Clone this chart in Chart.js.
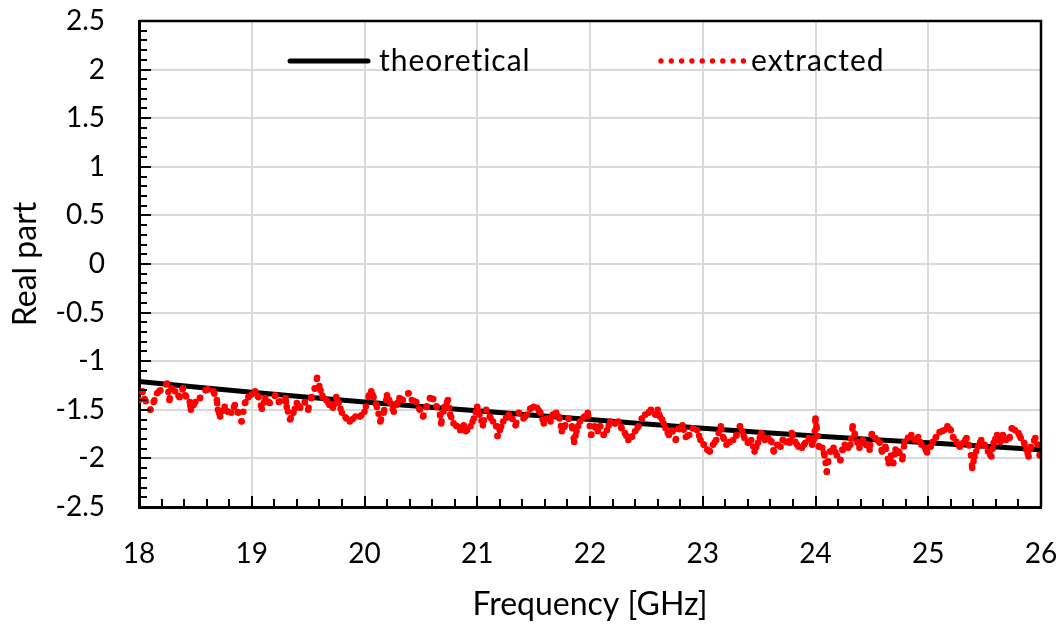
<!DOCTYPE html>
<html>
<head>
<meta charset="utf-8">
<script src="https://cdn.jsdelivr.net/npm/chart.js@4.4.1/dist/chart.umd.min.js"></script>
<style>
  html, body { margin: 0; padding: 0; background: #fff; }
</style>
</head>
<body>
<canvas id="myChart" width="1064" height="626"></canvas>
<script>
// datos
var freqTeorico = [18, 19, 20, 21, 22, 23, 24, 25, 26];
var realTeorico = [-1.21, -1.32, -1.42, -1.51, -1.60, -1.69, -1.77, -1.84, -1.91];

var freqExtraido = [
  18.00, 18.03, 18.05, 18.10, 18.13, 18.16, 18.19, 18.25, 18.27, 18.29, 18.32, 18.36, 18.39, 18.41, 18.45, 18.46,
  18.50, 18.54, 18.59, 18.61, 18.66, 18.69, 18.70, 18.72, 18.76, 18.79, 18.82, 18.85, 18.88, 18.91, 18.94, 18.97,
  19.03, 19.06, 19.09, 19.12, 19.16, 19.21, 19.24, 19.30, 19.31, 19.34, 19.37, 19.40, 19.43, 19.47, 19.50, 19.53,
  19.56, 19.58, 19.61, 19.63, 19.66, 19.69, 19.72, 19.75, 19.77, 19.80, 19.84, 19.87, 19.92, 19.96, 20.00, 20.04,
  20.06, 20.08, 20.11, 20.14, 20.17, 20.20, 20.23, 20.26, 20.29, 20.31, 20.34, 20.39, 20.42, 20.46, 20.49, 20.52,
  20.55, 20.58, 20.61, 20.64, 20.67, 20.68, 20.71, 20.74, 20.76, 20.79, 20.82, 20.85, 20.88, 20.90, 20.94, 20.97,
  21.00, 21.02, 21.05, 21.08, 21.11, 21.14, 21.17, 21.18, 21.20, 21.23, 21.28, 21.31, 21.34, 21.37, 21.41, 21.44,
  21.47, 21.50, 21.53, 21.56, 21.59, 21.62, 21.65, 21.67, 21.70, 21.73, 21.75, 21.78, 21.81, 21.84, 21.86, 21.88,
  21.91, 21.95, 21.98, 22.01, 22.04, 22.07,
  22.09, 22.12, 22.15, 22.18, 22.22, 22.25, 22.28, 22.31, 22.34, 22.37, 22.40, 22.43, 22.46, 22.49, 22.52, 22.54,
  22.58, 22.60, 22.62, 22.64, 22.67, 22.70, 22.73, 22.76, 22.79, 22.82, 22.85, 22.88, 22.91, 22.95, 22.98, 23.01,
  23.04, 23.06, 23.09, 23.12, 23.16, 23.18, 23.21, 23.24, 23.27, 23.30, 23.33, 23.35, 23.37, 23.40, 23.43, 23.46,
  23.49, 23.52, 23.55, 23.58, 23.61, 23.63, 23.66, 23.69, 23.71, 23.74, 23.77, 23.79, 23.82, 23.85, 23.88, 23.91,
  23.94, 23.97, 23.99, 24.00, 24.01, 24.03, 24.06, 24.08, 24.10, 24.11,
  24.13, 24.16, 24.19, 24.22, 24.24, 24.26, 24.29, 24.31, 24.33, 24.35, 24.37, 24.39, 24.42, 24.45, 24.48, 24.50,
  24.53, 24.57, 24.59, 24.62, 24.65, 24.67, 24.69, 24.71, 24.74, 24.77, 24.79, 24.82, 24.85, 24.88, 24.91, 24.94,
  24.97, 24.99, 25.02, 25.04, 25.07, 25.10, 25.14, 25.17, 25.20, 25.22, 25.25, 25.28, 25.31, 25.34, 25.36, 25.38,
  25.39, 25.41, 25.44, 25.47, 25.50, 25.53, 25.56, 25.58, 25.61, 25.64, 25.66, 25.69, 25.72, 25.74, 25.77, 25.80,
  25.82, 25.85, 25.87, 25.89, 25.91, 25.95, 25.97, 25.99
];
var realExtraido = [
  -1.40, -1.31, -1.39, -1.50, -1.42, -1.33, -1.30, -1.23, -1.40, -1.28, -1.31, -1.37, -1.28, -1.35, -1.42, -1.50,
  -1.42, -1.38, -1.30, -1.29, -1.31, -1.40, -1.50, -1.57, -1.47, -1.52, -1.53, -1.45, -1.53, -1.62, -1.43, -1.37,
  -1.31, -1.37, -1.49, -1.38, -1.43, -1.35, -1.42, -1.38, -1.47, -1.60, -1.53, -1.43, -1.48, -1.42, -1.50, -1.37,
  -1.28, -1.17, -1.30, -1.37, -1.40, -1.45, -1.48, -1.37, -1.43, -1.53, -1.59, -1.62, -1.57, -1.57, -1.52, -1.35,
  -1.31, -1.37, -1.47, -1.62, -1.53, -1.35, -1.43, -1.52, -1.43, -1.38, -1.40, -1.33, -1.40, -1.42, -1.50, -1.57,
  -1.47, -1.38, -1.39, -1.47, -1.55, -1.64, -1.47, -1.40, -1.55, -1.64, -1.67, -1.71, -1.66, -1.72, -1.67, -1.59,
  -1.47, -1.55, -1.66, -1.50, -1.57, -1.62, -1.67, -1.77, -1.71, -1.62, -1.55, -1.59, -1.66, -1.53, -1.59, -1.55,
  -1.49, -1.47, -1.48, -1.53, -1.64, -1.59, -1.62, -1.55, -1.53, -1.59, -1.72, -1.66, -1.59, -1.67, -1.83, -1.72,
  -1.62, -1.57, -1.53, -1.76, -1.67, -1.72,
  -1.67, -1.76, -1.71, -1.62, -1.64, -1.62, -1.69, -1.74, -1.81, -1.78, -1.72, -1.67, -1.59, -1.55, -1.53, -1.50,
  -1.55, -1.50, -1.57, -1.60, -1.69, -1.76, -1.71, -1.81, -1.69, -1.66, -1.78, -1.76, -1.69, -1.71, -1.81, -1.86,
  -1.91, -1.93, -1.86, -1.81, -1.67, -1.78, -1.86, -1.83, -1.81, -1.76, -1.67, -1.72, -1.79, -1.84, -1.81, -1.93,
  -1.84, -1.74, -1.81, -1.79, -1.83, -1.93, -1.86, -1.88, -1.81, -1.83, -1.84, -1.74, -1.83, -1.88, -1.89, -1.84,
  -1.79, -1.86, -1.79, -1.59, -1.69, -1.88, -1.89, -1.97, -2.14, -2.04,
  -1.93, -1.89, -1.97, -2.02, -1.91, -1.86, -1.89, -1.86, -1.67, -1.76, -1.83, -1.89, -1.81, -1.86, -1.91, -1.75,
  -1.79, -1.84, -1.93, -1.88, -2.05, -1.97, -2.05, -1.91, -1.93, -2.01, -1.83, -1.79, -1.76, -1.81, -1.78, -1.86,
  -1.89, -1.94, -1.88, -1.83, -1.78, -1.73, -1.71, -1.67, -1.71, -1.78, -1.83, -1.88, -1.84, -1.79, -1.86, -1.97,
  -2.10, -1.98, -1.88, -1.81, -1.86, -1.93, -1.98, -1.84, -1.76, -1.83, -1.76, -1.81, -1.79, -1.69, -1.71, -1.74,
  -1.79, -1.84, -1.91, -1.98, -1.88, -1.79, -1.86, -1.97
];

var etiquetas = ['theoretical', 'extracted'];

var fuente = 'Lato, "DejaVu Sans", sans-serif';

function puntos(xs, ys) {
  return xs.map(function (x, i) { return { x: x, y: ys[i] }; });
}

// marco, marcas internas y leyenda
var marcoPlugin = {
  id: 'marco',
  afterDatasetsDraw: function (chart) {
    var ctx = chart.ctx;
    var a = chart.chartArea;
    var sx = chart.scales.x;
    var sy = chart.scales.y;
    var i, p, len;

    ctx.save();
    ctx.strokeStyle = '#000';
    ctx.lineWidth = 2;

    // marcas eje y cada 0.1
    for (i = Math.round(sy.min * 10); i <= Math.round(sy.max * 10); i++) {
      p = Math.round(sy.getPixelForValue(i / 10));
      len = (i % 5 === 0) ? 12 : 8;
      ctx.beginPath(); ctx.moveTo(a.left, p); ctx.lineTo(a.left + len, p); ctx.stroke();
    }
    // marcas eje x cada 0.2
    for (i = 0; i <= Math.round((sx.max - sx.min) * 5); i++) {
      p = Math.round(sx.getPixelForValue(sx.min + i / 5));
      len = (i % 5 === 0) ? 11 : 8;
      ctx.beginPath(); ctx.moveTo(p, a.bottom); ctx.lineTo(p, a.bottom - len); ctx.stroke();
    }

    // borde superior y derecho
    ctx.lineWidth = 2.5;
    ctx.beginPath();
    ctx.moveTo(a.left, a.top);
    ctx.lineTo(a.right, a.top);
    ctx.lineTo(a.right, a.bottom);
    ctx.stroke();

    // leyenda
    var yLey = 61;
    ctx.lineCap = 'round';
    ctx.lineWidth = 5;
    ctx.beginPath(); ctx.moveTo(290, yLey); ctx.lineTo(368, yLey); ctx.stroke();

    ctx.fillStyle = '#ff0000';
    for (i = 0; i < 9; i++) {
      ctx.beginPath();
      ctx.arc(661 + i * 10.3, yLey, 2.7, 0, Math.PI * 2);
      ctx.fill();
    }

    ctx.fillStyle = '#000';
    ctx.font = '30px ' + fuente;
    ctx.letterSpacing = '1px';
    ctx.textBaseline = 'alphabetic';
    ctx.textAlign = 'left';
    ctx.fillText(etiquetas[0], 379, 71);
    ctx.fillText(etiquetas[1], 751, 71);
    ctx.restore();
  }
};

var chart_real;

function grafico_real() {
  var ctx = document.getElementById('myChart');

  chart_real = new Chart(ctx, {
    type: 'line',
    data: {
      datasets: [
        {
          label: etiquetas[0],
          data: puntos(freqTeorico, realTeorico),
          borderColor: '#000',
          borderWidth: 5,
          pointRadius: 0,
          tension: 0.3,
          order: 1
        },
        {
          label: etiquetas[1],
          data: puntos(freqExtraido, realExtraido),
          borderColor: '#ff0000',
          borderWidth: 6.5,
          borderDash: [0, 10],
          borderCapStyle: 'round',
          pointRadius: 3.3,
          pointBorderWidth: 0,
          pointBackgroundColor: '#ff0000',
          tension: 0,
          order: 0
        }
      ]
    },
    options: {
      responsive: false,
      animation: false,
      devicePixelRatio: 1,
      layout: { padding: { top: 21, right: 23, left: 0, bottom: 0 } },
      plugins: {
        legend: { display: false },
        tooltip: { enabled: false }
      },
      scales: {
        x: {
          type: 'linear',
          min: 18,
          max: 26,
          afterFit: function (s) { s.height = 119; },
          ticks: { stepSize: 1, color: '#000', font: { family: fuente, size: 28 }, padding: 0, maxRotation: 0, autoSkip: false },
          grid: { color: '#d9d9d9', lineWidth: 2, drawTicks: true, tickLength: 30, tickColor: 'rgba(0,0,0,0)' },
          border: { display: true, color: '#000', width: 3 },
          title: { display: true, text: 'Frequency [GHz]', color: '#000', font: { family: fuente, size: 32 }, padding: { top: 0, bottom: 2 } }
        },
        y: {
          min: -2.5,
          max: 2.5,
          afterFit: function (s) { s.width = 139; },
          ticks: {
            stepSize: 0.5,
            color: '#000',
            font: { family: fuente, size: 28 },
            padding: 0,
            callback: function (v) { return String(Math.round(v * 10) / 10); }
          },
          grid: { color: '#d9d9d9', lineWidth: 2, drawTicks: true, tickLength: 34, tickColor: 'rgba(0,0,0,0)' },
          border: { display: true, color: '#000', width: 3 },
          title: { display: true, text: 'Real part', color: '#000', font: { family: fuente, size: 32 }, padding: { top: 6, bottom: 0 } }
        }
      }
    },
    plugins: [marcoPlugin]
  });
}

grafico_real();
</script>
</body>
</html>
